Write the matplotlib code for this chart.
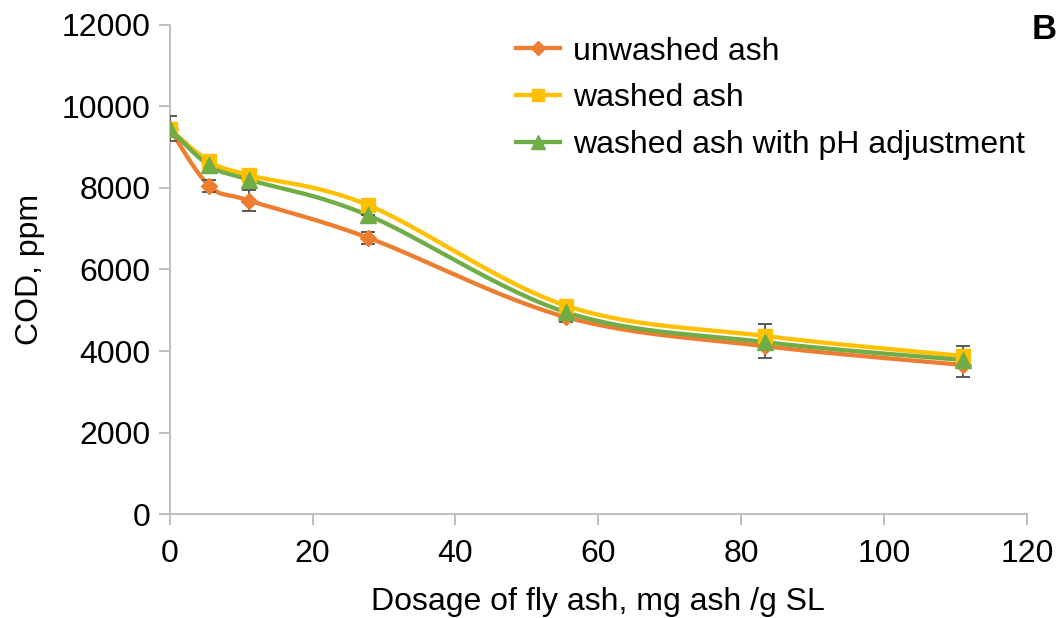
import numpy as np
import matplotlib
matplotlib.use("Agg")
import matplotlib.pyplot as plt

plt.rcParams['font.family'] = ['Liberation Sans', 'DejaVu Sans']

# Data
dosage = [0, 5.55, 11.1, 27.75, 55.5, 83.25, 111]
unwashed = [9450, 8050, 7690, 6780, 4830, 4120, 3660]
washed = [9450, 8650, 8310, 7580, 5110, 4370, 3880]
washed_ph = [9450, 8550, 8200, 7330, 4950, 4220, 3780]
err_unwashed = [310, 150, 260, 150, 120, 300, 300]
err_washed = [0, 0, 0, 150, 0, 300, 250]
err_ph = [0, 0, 200, 0, 0, 0, 0]

labels = ["unwashed ash", "washed ash", "washed ash with pH adjustment"]
colors = ["#ED7D31", "#FFC000", "#70AD47"]
markers = ["D", "s", "^"]
msizes = [8.5, 10, 11]


# smooth curve through the points (Catmull-Rom as Bezier, like Excel's smoothed line)
def smooth(x, y, n=30):
    x = np.asarray(x, float)
    y = np.asarray(y, float)
    px = np.concatenate([[x[0]], x, [x[-1]]])
    py = np.concatenate([[y[0]], y, [y[-1]]])
    xs, ys = [], []
    t = np.linspace(0, 1, n)
    for i in range(1, len(px) - 2):
        p0 = np.array([px[i], py[i]])
        p3 = np.array([px[i + 1], py[i + 1]])
        p1 = p0 + (np.array([px[i + 1], py[i + 1]]) - np.array([px[i - 1], py[i - 1]])) / 6
        p2 = p3 - (np.array([px[i + 2], py[i + 2]]) - np.array([px[i], py[i]])) / 6
        b = ((1 - t) ** 3)[:, None] * p0 + (3 * (1 - t) ** 2 * t)[:, None] * p1 \
            + (3 * (1 - t) * t ** 2)[:, None] * p2 + (t ** 3)[:, None] * p3
        xs.extend(b[:, 0])
        ys.extend(b[:, 1])
    return xs, ys


fig = plt.figure(figsize=(10.6, 6.18), dpi=100)
ax = fig.add_axes([0.160, 0.168, 0.809, 0.792])

series = [unwashed, washed, washed_ph]
errors = [err_unwashed, err_washed, err_ph]
for vals, errs, c, m, ms, lab in zip(series, errors, colors, markers, msizes, labels):
    sx, sy = smooth(dosage, vals)
    ax.plot(sx, sy, color=c, lw=3.1, zorder=2)
    ax.errorbar(dosage, vals, yerr=errs, fmt="none", ecolor="#595959",
                elinewidth=1.4, capsize=5, capthick=1.4, zorder=3)
    ax.plot(dosage, vals, ls="none", marker=m, ms=ms, color=c, zorder=4)
    ax.plot([], [], color=c, lw=3.1, marker=m, ms=ms - 1.5, label=lab)

ax.set_xlim(0, 120)
ax.set_ylim(0, 12000)
ax.set_xticks(range(0, 121, 20))
ax.set_yticks(range(0, 12001, 2000))

for s in ["top", "right"]:
    ax.spines[s].set_visible(False)
for s in ["left", "bottom"]:
    ax.spines[s].set_color("#BFBFBF")
    ax.spines[s].set_linewidth(1.4)
ax.tick_params(axis="both", colors="#BFBFBF", length=8, width=1.4,
               labelsize=23, labelcolor="black")
ax.tick_params(axis="x", pad=10)
ax.tick_params(axis="y", pad=6)

ax.set_xlabel("Dosage of fly ash, mg ash /g SL", fontsize=23, labelpad=13)
ax.set_ylabel("COD, ppm", fontsize=23, labelpad=12)

leg = ax.legend(loc="upper right", bbox_to_anchor=(1.02, 1.015), frameon=False,
                fontsize=23, handlelength=1.4, handletextpad=0.4,
                labelspacing=0.52, borderaxespad=0.2)

fig.text(0.997, 0.953, "B", fontsize=25, fontweight="bold", ha="right", va="center")

fig.savefig("out.png", dpi=100)
